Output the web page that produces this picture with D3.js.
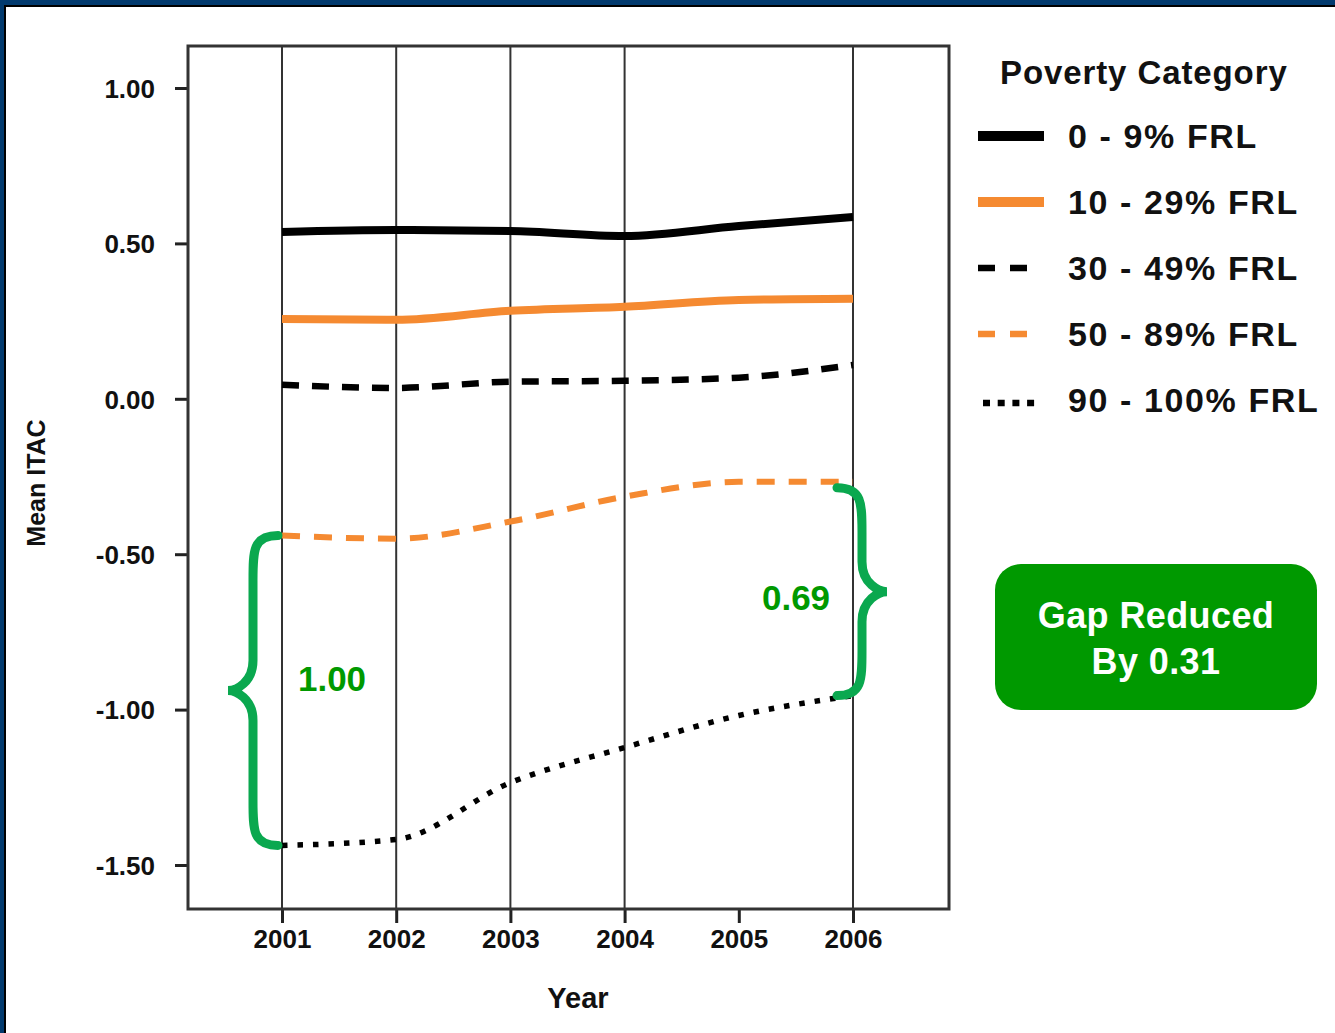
<!DOCTYPE html>
<html>
<head>
<meta charset="utf-8">
<script src="https://cdn.jsdelivr.net/npm/d3@7"></script>
<style>
  html, body { margin: 0; padding: 0; background: #fff; }
  svg { display: block; font-family: "Liberation Sans", Arial, sans-serif; }
</style>
</head>
<body>
<div id="chart"></div>
<script>
// Data
var years = [2001, 2002, 2003, 2004, 2005, 2006];
var gridYears = [2001, 2002, 2003, 2004, 2006];
var yTicks = [1.0, 0.5, 0.0, -0.5, -1.0, -1.5];
var categories = ["0 - 9% FRL", "10 - 29% FRL", "30 - 49% FRL", "50 - 89% FRL", "90 - 100% FRL"];
var frl0to9 = [0.537, 0.543, 0.540, 0.524, 0.556, 0.585];
var frl10to29 = [0.257, 0.254, 0.283, 0.296, 0.318, 0.322];
var frl30to49 = [0.045, 0.035, 0.055, 0.058, 0.068, 0.109];
var frl50to89 = [-0.44, -0.45, -0.395, -0.315, -0.267, -0.267];
var frl90to100 = [-1.437, -1.418, -1.235, -1.122, -1.019, -0.955];
var gapStart = "1.00";
var gapEnd = "0.69";
var gapNote = ["Gap Reduced", "By 0.31"];

var svgWidth = 1335;
var svgHeight = 1033;

var svg = d3.select("#chart")
  .append("svg")
  .attr("width", svgWidth)
  .attr("height", svgHeight);

// page frame (navy + black edge on top and left)
svg.append("rect").attr("x", 0).attr("y", 0).attr("width", svgWidth).attr("height", 5).attr("fill", "#023a6e");
svg.append("rect").attr("x", 0).attr("y", 0).attr("width", 4).attr("height", svgHeight).attr("fill", "#023a6e");
svg.append("rect").attr("x", 4).attr("y", 5).attr("width", svgWidth).attr("height", 2).attr("fill", "#000");
svg.append("rect").attr("x", 4).attr("y", 5).attr("width", 2).attr("height", svgHeight).attr("fill", "#000");

// plot box
var box = { left: 188, right: 949, top: 46, bottom: 909 };

var x = d3.scaleLinear()
  .domain([2001, 2006])
  .range([282, 853]);
var y = d3.scaleLinear()
  .domain([-1.5, 1.0])
  .range([865, 88]);

// gridlines
svg.append("g")
  .selectAll("line")
  .data(gridYears)
  .enter()
  .append("line")
  .attr("x1", d => x(d)).attr("x2", d => x(d))
  .attr("y1", box.top).attr("y2", box.bottom)
  .attr("stroke", "#333")
  .attr("stroke-width", 2);

// axes
var fmt = d3.format(".2f");
var leftAxis = d3.axisLeft(y)
  .tickValues(yTicks)
  .tickSize(13)
  .tickPadding(20)
  .tickFormat(d => fmt(d).replace("\u2212", "-"));
var bottomAxis = d3.axisBottom(x)
  .tickValues(years)
  .tickSize(14)
  .tickPadding(4)
  .tickFormat(d3.format("d"));

var yAxisG = svg.append("g")
  .attr("transform", `translate(${box.left}, 0)`)
  .call(leftAxis);
var xAxisG = svg.append("g")
  .attr("transform", `translate(0, ${box.bottom})`)
  .call(bottomAxis);

[yAxisG, xAxisG].forEach(function(g) {
  g.select(".domain").remove();
  g.selectAll(".tick line").attr("stroke", "#222").attr("stroke-width", 3);
  g.selectAll(".tick text")
    .attr("fill", "#111")
    .style("font-size", "26px")
    .style("font-weight", "bold")
    .style("font-family", "'Liberation Sans', Arial, sans-serif");
});
yAxisG.selectAll(".tick text").attr("dy", "0.36em");
xAxisG.selectAll(".tick text").attr("dy", "0.8em");

// frame
svg.append("rect")
  .attr("x", box.left).attr("y", box.top)
  .attr("width", box.right - box.left)
  .attr("height", box.bottom - box.top)
  .attr("fill", "none")
  .attr("stroke", "#333")
  .attr("stroke-width", 3);

// axis titles
svg.append("text")
  .attr("x", 578).attr("y", 1008)
  .attr("text-anchor", "middle")
  .style("font-size", "29px").style("font-weight", "bold")
  .attr("fill", "#111")
  .text("Year");
svg.append("text")
  .attr("transform", "translate(45, 483) rotate(-90)")
  .attr("text-anchor", "middle")
  .style("font-size", "25px").style("font-weight", "bold")
  .attr("fill", "#111")
  .text("Mean ITAC");

// series
var series = [
  { name: categories[0], values: frl0to9, color: "#000", width: 8, dash: null, key: "dash0" },
  { name: categories[1], values: frl10to29, color: "#f58a31", width: 8, dash: null, key: "dash0" },
  { name: categories[2], values: frl30to49, color: "#000", width: 6.5, dash: "17,13", key: "dash1" },
  { name: categories[3], values: frl50to89, color: "#f58a31", width: 6, dash: "18,14", key: "dash1" },
  { name: categories[4], values: frl90to100, color: "#000", width: 5.5, dash: "5.5,10", key: "dot" }
];

var line = d3.line()
  .x((d, i) => x(years[i]))
  .y(d => y(d))
  .curve(d3.curveMonotoneX);

svg.append("g")
  .selectAll("path")
  .data(series)
  .enter()
  .append("path")
  .attr("d", d => line(d.values))
  .attr("fill", "none")
  .attr("stroke", d => d.color)
  .attr("stroke-width", d => d.width)
  .attr("stroke-dasharray", d => d.dash);

// legend
var legend = svg.append("g");
legend.append("text")
  .attr("x", 1000).attr("y", 84)
  .style("font-size", "33px").style("font-weight", "bold")
  .style("letter-spacing", "0.9px")
  .attr("fill", "#111")
  .text("Poverty Category");

var legendRows = legend.selectAll("g.row")
  .data(series)
  .enter()
  .append("g")
  .attr("class", "row")
  .attr("transform", (d, i) => `translate(0, ${136 + i * 66})`);

legendRows.append("line")
  .attr("x1", d => d.key == "dot" ? 983 : 978)
  .attr("x2", d => d.key == "dash0" ? 1044 : (d.key == "dash1" ? 1029 : 1037))
  .attr("y1", d => d.key == "dot" ? 3 : 0)
  .attr("y2", d => d.key == "dot" ? 3 : 0)
  .attr("stroke", d => d.color)
  .attr("stroke-width", d => d.key == "dash0" ? 10 : 6.5)
  .attr("stroke-dasharray", d => d.key == "dash1" ? "17,15" : (d.key == "dot" ? "7,7.7" : null));

legendRows.append("text")
  .attr("x", 1068).attr("y", 0)
  .attr("dy", "0.36em")
  .style("font-size", "34px").style("font-weight", "bold")
  .style("letter-spacing", "1.6px")
  .attr("fill", "#111")
  .text(d => d.name);

// gap braces
var braceColor = "#0aa84f";
function brace(xe, y0, y1, dir) {
  // dir = -1 points left, +1 points right
  var xs = xe + dir * 25, xt = xe + dir * 50, ym = (y0 + y1) / 2;
  var p = d3.path();
  p.moveTo(xe, y0);
  p.bezierCurveTo(xs, y0, xs, y0 + 15, xs, y0 + 45);
  p.lineTo(xs, ym - 30);
  p.bezierCurveTo(xs, ym - 8, xt - dir * 8, ym, xt, ym);
  p.bezierCurveTo(xt - dir * 8, ym, xs, ym + 8, xs, ym + 30);
  p.lineTo(xs, y1 - 45);
  p.bezierCurveTo(xs, y1 - 15, xs, y1, xe, y1);
  return p.toString();
}

var first = 0, last = years.length - 1;
var leftTop = y(frl50to89[first]), leftBot = y(frl90to100[first]);
var rightTop = y(frl50to89[last]) + 6, rightBot = y(frl90to100[last]);

svg.append("path")
  .attr("d", brace(x(years[first]) - 4, leftTop, leftBot, -1))
  .attr("fill", "none").attr("stroke", braceColor).attr("stroke-width", 9)
  .attr("stroke-linecap", "round");
svg.append("path")
  .attr("d", brace(x(years[last]) - 16, rightTop, rightBot, 1))
  .attr("fill", "none").attr("stroke", braceColor).attr("stroke-width", 9)
  .attr("stroke-linecap", "round");

svg.append("text")
  .attr("x", x(years[first]) + 50).attr("y", (leftTop + leftBot) / 2 - 12)
  .attr("dy", "0.36em").attr("text-anchor", "middle")
  .style("font-size", "35px").style("font-weight", "bold")
  .attr("fill", "#009900")
  .text(gapStart);
svg.append("text")
  .attr("x", x(years[last]) - 57).attr("y", (rightTop + rightBot) / 2 + 6)
  .attr("dy", "0.36em").attr("text-anchor", "middle")
  .style("font-size", "35px").style("font-weight", "bold")
  .attr("fill", "#009900")
  .text(gapEnd);

// gap note box
var note = svg.append("g").attr("transform", "translate(995, 564)");
note.append("rect")
  .attr("width", 322).attr("height", 146)
  .attr("rx", 26).attr("ry", 26)
  .attr("fill", "#009900");
note.selectAll("text")
  .data(gapNote)
  .enter()
  .append("text")
  .attr("x", 161)
  .attr("y", (d, i) => 51 + i * 46)
  .attr("dy", "0.36em")
  .attr("text-anchor", "middle")
  .style("font-size", "36px").style("font-weight", "bold")
  .style("letter-spacing", "0.4px")
  .attr("fill", "#fff")
  .text(d => d);
</script>
</body>
</html>
